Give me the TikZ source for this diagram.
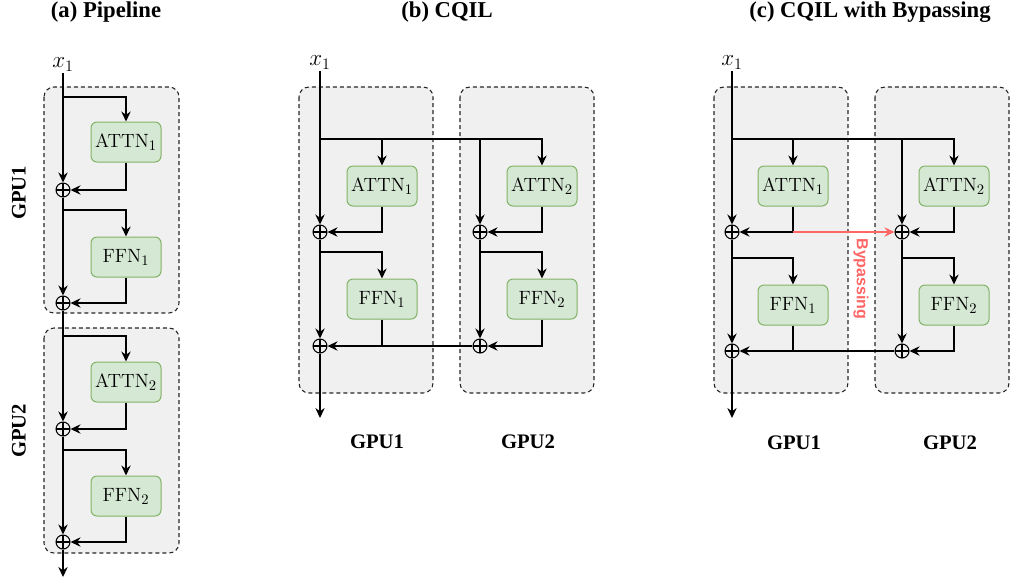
\documentclass[tikz,border=0pt]{standalone}
\usepackage{amsmath,amssymb}
\usepackage[no-math]{fontspec}
\usepackage{tikz}
\usetikzlibrary{arrows.meta, calc}
\newfontfamily\titlefont{Liberation Serif}
\newfontfamily\bypassfont{Liberation Sans}
\definecolor{gpugray}{HTML}{F0F0F0}
\definecolor{layergreen}{HTML}{D5E8D4}
\definecolor{layerline}{HTML}{82B366}
\definecolor{bypassred}{HTML}{FF6666}
\tikzset{
  gpubox/.style={
    draw=black!85,
    fill=gpugray,
    line width=0.8pt,
    dash pattern=on 3pt off 2.25pt,
    rounded corners=7.5pt
  },
  layer/.style={
    draw=layerline,
    fill=layergreen,
    line width=0.75pt,
    rounded corners=4.5pt,
    minimum width=52.5pt,
    minimum height=30pt,
    inner sep=0pt,
    font=\fontsize{15}{17}\selectfont
  },
  sum/.style={
    circle,
    draw,
    line width=0.8pt,
    minimum size=10.5pt,
    inner sep=0pt,
    path picture={
      \draw[line width=0.8pt] (path picture bounding box.north) -- (path picture bounding box.south)
        (path picture bounding box.west) -- (path picture bounding box.east);
    }
  },
  wire/.style={
    line width=1.1pt,
    draw=black
  },
  flow/.style={
    wire,
    -{Stealth[length=7.5pt, width=7pt, inset=2.5pt]}
  },
  bypass/.style={
    flow,
    draw=bypassred
  },
  title/.style={font=\titlefont\bfseries\fontsize{17}{20}\selectfont},
  gpulabel/.style={font=\titlefont\bfseries\fontsize{15.5}{18}\selectfont},
  input/.style={font=\fontsize{17}{19}\selectfont, inner sep=1pt}
}

\begin{document}
\begin{tikzpicture}[x=0.75pt, y=-0.75pt]
  \useasboundingbox (0,0) rectangle (1010,583);

  % titles
  \node[title, anchor=base] (titleA) at (106,17.5) {(a) Pipeline};
  \node[title, anchor=base] (titleB) at (447,17.5) {(b) CQIL};
  \node[title, anchor=base] (titleC) at (870,17.5) {(c) CQIL with Bypassing};

  % (a) pipeline
  \draw[gpubox] (44,87) rectangle (179,313);
  \draw[gpubox] (44,328) rectangle (179,553);
  \node[gpulabel, rotate=90] (gpuA1) at (19,193) {GPU1};
  \node[gpulabel, rotate=90] (gpuA2) at (19,431) {GPU2};

  \node[input, anchor=south] (xa) at (63,73) {$x_1$};
  \node[layer] (attnA1) at (126,142) {$\mathrm{ATTN}_1$};
  \node[layer] (ffnA1)  at (126,257) {$\mathrm{FFN}_1$};
  \node[layer] (attnA2) at (126,382) {$\mathrm{ATTN}_2$};
  \node[layer] (ffnA2)  at (126,496) {$\mathrm{FFN}_2$};
  \node[sum] (sA1) at (63,190) {};
  \node[sum] (sA2) at (63,303) {};
  \node[sum] (sA3) at (63,429) {};
  \node[sum] (sA4) at (63,542) {};
  \coordinate (brA1) at (63,97);
  \coordinate (brA2) at (63,210);
  \coordinate (brA3) at (63,336);
  \coordinate (brA4) at (63,450);
  \coordinate (outA) at (63,577);

  \draw[flow] (xa) -- (sA1);
  \draw[flow] (sA1) -- (sA2);
  \draw[flow] (sA2) -- (sA3);
  \draw[flow] (sA3) -- (sA4);
  \draw[flow] (sA4) -- (outA);
  \draw[flow] (brA1) -| (attnA1);
  \draw[flow] (attnA1) |- (sA1);
  \draw[flow] (brA2) -| (ffnA1);
  \draw[flow] (ffnA1) |- (sA2);
  \draw[flow] (brA3) -| (attnA2);
  \draw[flow] (attnA2) |- (sA3);
  \draw[flow] (brA4) -| (ffnA2);
  \draw[flow] (ffnA2) |- (sA4);

  % (b) CQIL
  \draw[gpubox] (299,87) rectangle (433,393);
  \draw[gpubox] (460,87) rectangle (594,393);
  \node[gpulabel] (gpuB1) at (377,442) {GPU1};
  \node[gpulabel] (gpuB2) at (528,442) {GPU2};

  \node[input, anchor=south] (xb) at (320,71) {$x_1$};
  \node[layer] (attnB1) at (382,186) {$\mathrm{ATTN}_1$};
  \node[layer] (attnB2) at (542,186) {$\mathrm{ATTN}_2$};
  \node[layer] (ffnB1)  at (382,299) {$\mathrm{FFN}_1$};
  \node[layer] (ffnB2)  at (542,299) {$\mathrm{FFN}_2$};
  \node[sum] (sB1) at (320,232) {};
  \node[sum] (sB2) at (480,232) {};
  \node[sum] (sB3) at (320,346) {};
  \node[sum] (sB4) at (480,346) {};
  \coordinate (brB0) at (320,139);
  \coordinate (brB1) at (382,139);
  \coordinate (brB2) at (480,139);
  \coordinate (brB3) at (320,252);
  \coordinate (brB4) at (480,252);
  \coordinate (jB)   at (382,346);
  \coordinate (outB) at (320,418);

  \draw[flow] (xb) -- (sB1);
  \draw[flow] (sB1) -- (sB3);
  \draw[flow] (sB3) -- (outB);
  \draw[flow] (brB0) -| (attnB2);
  \draw[flow] (brB1) -- (attnB1);
  \draw[flow] (brB2) -- (sB2);
  \draw[flow] (sB2) -- (sB4);
  \draw[flow] (attnB1) |- (sB1);
  \draw[flow] (attnB2) |- (sB2);
  \draw[flow] (brB3) -| (ffnB1);
  \draw[flow] (brB4) -| (ffnB2);
  \draw[flow] (ffnB2) |- (sB4);
  \draw[flow] (sB4) -- (sB3);
  \draw[wire] (ffnB1) -- (jB);

  % (c) CQIL with bypassing
  \draw[gpubox] (714,87) rectangle (848,393);
  \draw[gpubox] (875,87) rectangle (1009,393);
  \node[gpulabel] (gpuC1) at (794,443) {GPU1};
  \node[gpulabel] (gpuC2) at (950,443) {GPU2};

  \node[input, anchor=south] (xc) at (732,71) {$x_1$};
  \node[layer] (attnC1) at (793,186) {$\mathrm{ATTN}_1$};
  \node[layer] (attnC2) at (954,186) {$\mathrm{ATTN}_2$};
  \node[layer] (ffnC1)  at (793,305) {$\mathrm{FFN}_1$};
  \node[layer] (ffnC2)  at (954,305) {$\mathrm{FFN}_2$};
  \node[sum] (sC1) at (732,232) {};
  \node[sum] (sC2) at (902,232) {};
  \node[sum] (sC3) at (732,351) {};
  \node[sum] (sC4) at (902,351) {};
  \coordinate (brC0) at (732,139);
  \coordinate (brC1) at (793,139);
  \coordinate (brC2) at (902,139);
  \coordinate (brC3) at (732,258);
  \coordinate (brC4) at (902,258);
  \coordinate (jC1)  at (793,232);
  \coordinate (jC2)  at (793,351);
  \coordinate (outC) at (732,418);

  \draw[flow] (xc) -- (sC1);
  \draw[flow] (sC1) -- (sC3);
  \draw[flow] (sC3) -- (outC);
  \draw[flow] (brC0) -| (attnC2);
  \draw[flow] (brC1) -- (attnC1);
  \draw[flow] (brC2) -- (sC2);
  \draw[flow] (sC2) -- (sC4);
  \draw[flow] (attnC1) |- (sC1);
  \draw[flow] (attnC2) |- (sC2);
  \draw[flow] (brC3) -| (ffnC1);
  \draw[flow] (brC4) -| (ffnC2);
  \draw[flow] (ffnC2) |- (sC4);
  \draw[flow] (sC4) -- (sC3);
  \draw[wire] (ffnC1) -- (jC2);
  \draw[bypass] (jC1) -- (sC2);
  \node[font=\bypassfont\bfseries\fontsize{12}{14}\selectfont, text=bypassred, rotate=-90] (bypassC) at (861,279) {Bypassing};
\end{tikzpicture}
\end{document}
